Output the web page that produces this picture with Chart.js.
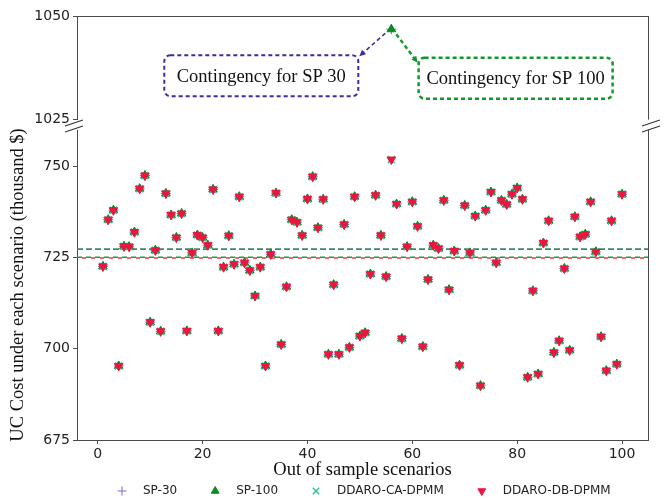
<!DOCTYPE html>
<html>
<head>
<meta charset="utf-8">
<script src="https://cdn.jsdelivr.net/npm/chart.js@4"></script>
<style>
  html, body { margin: 0; padding: 0; background: #fff; overflow: hidden; }
  #wrap { position: relative; width: 667px; height: 500px; }
  #topBox { position: absolute; left: 0; top: 0; width: 667px; height: 131px; }
  #botBox { position: absolute; left: 0; top: 100px; width: 667px; height: 400px; }
</style>
</head>
<body>
<div id="wrap">
  <div id="topBox"><canvas id="topChart"></canvas></div>
  <div id="botBox"><canvas id="botChart"></canvas></div>
</div>
<script>
// scenario numbers on the x axis
const scenarios = [
  1, 2, 3, 4, 5, 6, 7, 8, 9, 10, 11, 12, 13, 14, 15, 16, 17, 18, 19, 20,
  21, 22, 23, 24, 25, 26, 27, 28, 29, 30, 31, 32, 33, 34, 35, 36, 37, 38, 39, 40,
  41, 42, 43, 44, 45, 46, 47, 48, 49, 50, 51, 52, 53, 54, 55, 56, 57, 58, 59, 60,
  61, 62, 63, 64, 65, 66, 67, 68, 69, 70, 71, 72, 73, 74, 75, 76, 77, 78, 79, 80,
  81, 82, 83, 84, 85, 86, 87, 88, 89, 90, 91, 92, 93, 94, 95, 96, 97, 98, 99, 100
];

// UC cost per scenario (thousand $) - all four methods sit on top of each other
const ddaroCost = [
  722.6, 735.4, 738.0, 695.3, 728.1, 728.0, 732.0, 743.9, 747.5, 707.3,
  727.0, 704.8, 742.6, 736.7, 730.5, 737.1, 704.9, 726.3, 731.2, 730.5,
  728.4, 743.7, 704.9, 722.4, 731.0, 723.2, 741.7, 723.6, 721.5, 714.5,
  722.4, 695.3, 725.9, 742.7, 701.2, 717.0, 735.4, 734.7, 731.1, 741.1,
  747.2, 733.2, 741.0, 698.5, 717.6, 698.5, 734.1, 700.4, 741.7, 703.5,
  704.4, 720.5, 742.1, 731.1, 719.8, 751.9, 739.7, 702.8, 728.0, 740.3,
  733.6, 700.6, 719.0, 728.4, 727.5, 740.7, 716.2, 726.8, 695.5, 739.3,
  726.3, 736.4, 689.9, 738.0, 743.0, 723.6, 740.7, 739.6, 742.4, 744.1,
  741.0, 692.2, 715.9, 693.1, 729.0, 735.1, 699.0, 702.2, 722.0, 699.6,
  736.2, 730.7, 731.4, 740.3, 726.6, 703.3, 694.0, 735.1, 695.8, 742.4
];

// SP-30 / SP-100 hit a contingency in one scenario
const outlierScenario = 56;
const spOutlierCost = 1046.8;

// dashed average levels
const meanSP = 727.3;
const meanCA = 725.1;
const meanDB = 724.9;

const xTicks = [0, 20, 40, 60, 80, 100];
const yTicksLow = [675, 700, 725, 750];
const yTicksHigh = [1025, 1050];
const seriesNames = ['SP-30', 'SP-100', 'DDARO-CA-DPMM', 'DDARO-DB-DPMM'];

const spCost = ddaroCost.map((v, i) => scenarios[i] === outlierScenario ? null : v);

const X_MIN = -3.95, X_MAX = 104.95;
const FRAME = '#4a4a4a';
const C_SP30 = '#7a6cd0', C_SP100 = '#0b8a1f', C_CA = '#2cc998', C_DB = '#ee1440';
const tickFont = { family: 'DejaVu Sans', size: 14 };
const SERIF = 'Liberation Serif';

const pts = arr => scenarios.map((s, i) => ({ x: s, y: arr[i] }));
const hline = v => [{ x: X_MIN, y: v }, { x: X_MAX, y: v }];

const markers = {
  sp30: { pointStyle: 'cross', pointRadius: 5, borderColor: C_SP30, backgroundColor: C_SP30, borderWidth: 1 },
  sp100: { pointStyle: 'triangle', pointRadius: 5, borderColor: C_SP100, backgroundColor: C_SP100, borderWidth: 1 },
  ca: { pointStyle: 'crossRot', pointRadius: 5, borderColor: C_CA, backgroundColor: C_CA, borderWidth: 1.5 },
  db: { pointStyle: 'triangle', rotation: 180, pointRadius: 5, borderColor: C_DB, backgroundColor: C_DB, borderWidth: 1 }
};

// right / top spines and the "//" break marks
const framePlugin = {
  id: 'frame',
  afterDraw(chart, args, opts) {
    const { ctx, chartArea: a } = chart;
    ctx.save();
    ctx.strokeStyle = FRAME;
    ctx.lineWidth = 1;
    ctx.beginPath();
    ctx.moveTo(a.right + 0.5, a.top);
    ctx.lineTo(a.right + 0.5, a.bottom);
    if (opts.top) {
      ctx.moveTo(a.left, a.top + 0.5);
      ctx.lineTo(a.right + 1, a.top + 0.5);
    }
    ctx.stroke();
    if (opts.breaks) {
      ctx.lineWidth = 1.3;
      ctx.strokeStyle = '#333';
      [a.left - 3, a.right + 3].forEach(cx => {
        const cy = a.top - 4;
        [-3, 3].forEach(o => {
          ctx.beginPath();
          ctx.moveTo(cx - 9, cy + o + 3);
          ctx.lineTo(cx + 9, cy + o - 3);
          ctx.stroke();
        });
      });
    }
    ctx.restore();
  }
};

// legend row under the x axis title
const legendPlugin = {
  id: 'markerLegend',
  afterDraw(chart, args, opts) {
    const { ctx } = chart;
    ctx.save();
    ctx.font = '12px "DejaVu Sans"';
    ctx.textBaseline = 'middle';
    let x = opts.x;
    chart.data.datasets.slice(0, seriesNames.length).forEach(ds => {
      ctx.fillStyle = ds.backgroundColor;
      ctx.strokeStyle = ds.borderColor;
      ctx.lineWidth = ds.borderWidth;
      Chart.helpers.drawPoint(ctx, {
        pointStyle: ds.pointStyle, rotation: ds.rotation || 0, radius: 4.5, borderWidth: ds.borderWidth
      }, x, opts.y);
      x += 21;
      ctx.fillStyle = '#222';
      ctx.fillText(ds.label, x, opts.y);
      x += ctx.measureText(ds.label).width + 38;
    });
    ctx.restore();
  }
};

const notes = [
  { text: 'Contingency for SP 30', color: '#3b2e9c', x: 31.2, y: 1035.6, lw: 2, side: 'right' },
  { text: 'Contingency for SP 100', color: '#10992a', x: 79.7, y: 1035.0, lw: 2.5, side: 'left' }
];

function arrow(ctx, x1, y1, x2, y2, color, lw) {
  const ang = Math.atan2(y2 - y1, x2 - x1);
  ctx.save();
  ctx.strokeStyle = color;
  ctx.fillStyle = color;
  ctx.lineWidth = lw;
  ctx.setLineDash([4, 3]);
  ctx.beginPath();
  ctx.moveTo(x1, y1);
  ctx.lineTo(x2 - 4 * Math.cos(ang), y2 - 4 * Math.sin(ang));
  ctx.stroke();
  ctx.setLineDash([]);
  ctx.beginPath();
  ctx.moveTo(x2, y2);
  ctx.lineTo(x2 - 7 * Math.cos(ang - 0.45), y2 - 7 * Math.sin(ang - 0.45));
  ctx.lineTo(x2 - 7 * Math.cos(ang + 0.45), y2 - 7 * Math.sin(ang + 0.45));
  ctx.closePath();
  ctx.fill();
  ctx.restore();
}

const notePlugin = {
  id: 'notes',
  afterDatasetsDraw(chart) {
    const { ctx, scales: { x, y } } = chart;
    const px = x.getPixelForValue(outlierScenario);
    const py = y.getPixelForValue(spOutlierCost);
    const w = 194, h = 41;
    notes.forEach(n => {
      const cx = x.getPixelForValue(n.x);
      const cy = y.getPixelForValue(n.y);
      ctx.save();
      ctx.strokeStyle = n.color;
      ctx.lineWidth = n.lw;
      ctx.setLineDash([4, 3]);
      ctx.beginPath();
      ctx.roundRect(cx - w / 2, cy - h / 2, w, h, 6);
      ctx.stroke();
      ctx.setLineDash([]);
      ctx.fillStyle = '#111';
      ctx.font = '18.5px "' + SERIF + '"';
      ctx.textAlign = 'center';
      ctx.textBaseline = 'middle';
      ctx.fillText(n.text, cx, cy + 1);
      ctx.restore();
      if (n.side === 'right') {
        arrow(ctx, px - 6, py + 4, cx + w / 2 + 1, cy - h / 2 + 1, n.color, 1.6);
      } else {
        arrow(ctx, px + 5, py + 5, cx - w / 2 - 1, cy - h / 2 + 5, n.color, 2.4);
      }
    });
  }
};

function yAxis(min, max, ticks, title) {
  return {
    min, max,
    afterBuildTicks: a => { a.ticks = ticks.map(v => ({ value: v })); },
    afterFit: a => { a.width = 77; },
    grid: { drawOnChartArea: false, tickLength: 4, color: FRAME },
    border: { color: FRAME },
    ticks: { font: tickFont, color: '#222', padding: 3, callback: v => String(v) },
    title: title ? {
      display: true, text: title, color: '#111',
      font: { family: SERIF, size: 18.5 }, padding: { top: 7, bottom: 0 }
    } : { display: false }
  };
}

// top panel: the contingency point
new Chart(document.getElementById('topChart'), {
  type: 'scatter',
  data: {
    datasets: [
      { label: seriesNames[0], data: [{ x: outlierScenario, y: spOutlierCost }], ...markers.sp30, order: 3 },
      { label: seriesNames[1], data: [{ x: outlierScenario, y: spOutlierCost }], ...markers.sp100, order: 2 }
    ]
  },
  options: {
    responsive: true,
    maintainAspectRatio: false,
    animation: false,
    layout: { padding: { top: 16, right: 19, bottom: 0, left: 0 } },
    scales: {
      x: { type: 'linear', min: X_MIN, max: X_MAX, display: false },
      y: yAxis(1025, 1050, yTicksHigh, null)
    },
    plugins: {
      legend: { display: false },
      tooltip: { enabled: false },
      frame: { top: true }
    }
  },
  plugins: [framePlugin, notePlugin]
});

// bottom panel: all scenarios
new Chart(document.getElementById('botChart'), {
  type: 'scatter',
  data: {
    datasets: [
      { label: seriesNames[0], data: pts(spCost), ...markers.sp30, order: 3 },
      { label: seriesNames[1], data: pts(spCost), ...markers.sp100, order: 2 },
      { label: seriesNames[2], data: pts(ddaroCost), ...markers.ca, order: 1 },
      { label: seriesNames[3], data: pts(ddaroCost), ...markers.db, order: 0 },
      { label: 'mean', data: hline(meanSP), showLine: true, pointRadius: 0, borderColor: C_SP30, borderWidth: 1.5, borderDash: [6, 3], order: 6 },
      { label: 'mean', data: hline(meanSP), showLine: true, pointRadius: 0, borderColor: '#1f9a3a', borderWidth: 1.5, borderDash: [6, 3], order: 5 },
      { label: 'mean', data: hline(meanCA), showLine: true, pointRadius: 0, borderColor: '#1f9a3a', borderWidth: 1.5, borderDash: [5, 4], order: 5 },
      { label: 'mean', data: hline(meanDB), showLine: true, pointRadius: 0, borderColor: '#e8384a', borderWidth: 1.5, borderDash: [4, 5], borderDashOffset: 4, order: 4 }
    ]
  },
  options: {
    responsive: true,
    maintainAspectRatio: false,
    animation: false,
    layout: { padding: { top: 30, right: 19, bottom: 0, left: 0 } },
    scales: {
      x: {
        type: 'linear', min: X_MIN, max: X_MAX,
        afterBuildTicks: a => { a.ticks = xTicks.map(v => ({ value: v })); },
        afterFit: a => { a.height = 60; },
        grid: { drawOnChartArea: false, tickLength: 4, color: FRAME },
        border: { color: FRAME },
        ticks: { font: tickFont, color: '#222', padding: 2, maxRotation: 0 },
        title: {
          display: true, text: 'Out of sample scenarios', color: '#111',
          font: { family: SERIF, size: 18.5 }, padding: { top: 0, bottom: 19 }
        }
      },
      y: yAxis(675, 760, yTicksLow, 'UC Cost under each scenario (thousand $)')
    },
    plugins: {
      legend: { display: false },
      tooltip: { enabled: false },
      frame: { breaks: true },
      markerLegend: { x: 122, y: 391 }
    }
  },
  plugins: [framePlugin, legendPlugin]
});
</script>
</body>
</html>
